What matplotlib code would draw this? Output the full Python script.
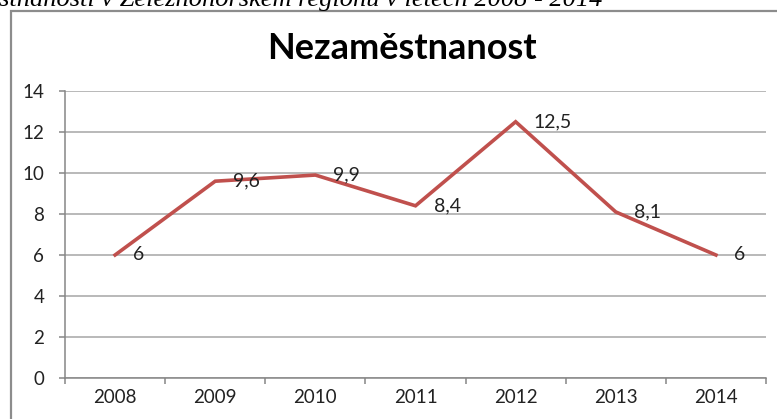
import matplotlib.pyplot as plt
import matplotlib.patches as patches

years = ["2008", "2009", "2010", "2011", "2012", "2013", "2014"]
unemployment = [6, 9.6, 9.9, 8.4, 12.5, 8.1, 6]
y_ticks = [0, 2, 4, 6, 8, 10, 12, 14]

plt.rcParams['font.family'] = ['Lato', 'DejaVu Sans']

fig = plt.figure(figsize=(7.77, 4.19), dpi=100)
ax = fig.add_axes([65 / 777, 41 / 419, 701 / 777, 287 / 419])

x = list(range(len(years)))
ax.plot(x, unemployment, color="#C0504D", lw=2.6, solid_joinstyle="miter")

# data labels with czech decimal comma
for xi, v in zip(x, unemployment):
    label = f"{v:g}".replace(".", ",")
    ax.annotate(label, (xi, v), xytext=(13, 0), textcoords="offset points",
                ha="left", va="center", fontsize=14, color="#222222")

ax.set_xlim(-0.5, len(years) - 0.5)
ax.set_ylim(0, 14)
ax.set_yticks(y_ticks)
ax.set_yticklabels([str(t) for t in y_ticks])
ax.set_xticks(x)
ax.set_xticklabels(years)
ax.set_xticks([i - 0.5 for i in range(len(years) + 1)], minor=True)

ax.grid(axis="y", color="#A6A6A6", lw=1.1)
ax.set_axisbelow(True)
for side in ["top", "right"]:
    ax.spines[side].set_visible(False)
for side in ["left", "bottom"]:
    ax.spines[side].set_color("#868686")
    ax.spines[side].set_linewidth(1.1)

ax.tick_params(axis="x", which="major", length=0, pad=8, labelsize=13.5, labelcolor="#222222")
ax.tick_params(axis="x", which="minor", length=4, color="#868686", width=1.1)
ax.tick_params(axis="y", length=4, color="#868686", width=1.1, pad=11,
               labelsize=13.5, labelcolor="#222222")

fig.text(402 / 777, 1 - 59 / 419, "Nezaměstnanost", ha="center", va="baseline",
         fontsize=26, fontweight="bold", color="black")

# chart frame, cut off at right and bottom
frame = patches.Rectangle((10.5 / 777, -0.1), 1.2, 1.1 - 11 / 419,
                          transform=fig.transFigure, fill=False,
                          edgecolor="#8C8C8C", lw=1.6, clip_on=False)
fig.patches.append(frame)

fig.text(602 / 777, 1 - 6 / 419,
         "Vývoj nezaměstnanosti v Železnohorském regionu v letech 2008 - 2014",
         ha="right", va="baseline", fontsize=19, fontstyle="italic",
         family="Liberation Serif", color="black")

fig.savefig("out.png", dpi=100)
